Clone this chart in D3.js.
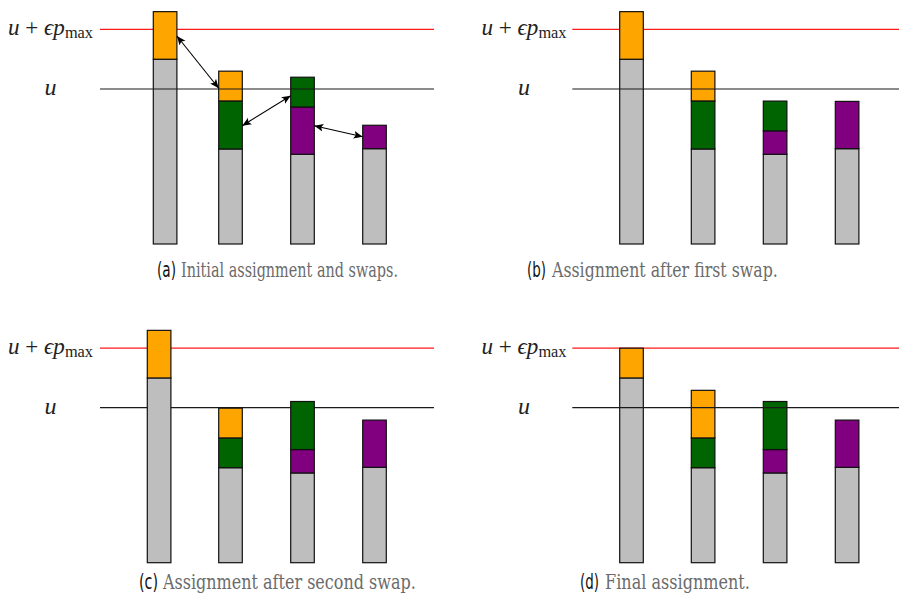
<!DOCTYPE html>
<html>
<head>
<meta charset="utf-8">
<script src="https://cdn.jsdelivr.net/npm/d3@7"></script>
<style>
  html, body { margin: 0; padding: 0; background: #fff; }
  svg { display: block; }
</style>
</head>
<body>
<svg id="chart" width="899" height="608"></svg>
<script>
// Machine loads in units of the threshold scale (u = 10).
const machines = [1, 2, 3, 4];
const baseLoad = [11.92, 6.13, 5.79, 6.15];          // grey: load already fixed on each machine
const uLevel = 10;                                    // u
const uMaxLevel = 13.85;                              // u + eps * p_max

// Jobs being moved around: colour key and size.
const jobNames = ["O1", "O2", "G1", "G2", "P1", "P2"];
const jobSizes = [3.07, 1.92, 3.10, 1.92, 3.05, 1.51];
const jobColors = ["#FFA500", "#FFA500", "#006400", "#006400", "#800080", "#800080"];

// Stack of jobs per machine, bottom to top, for each step.
const stepA = [["O1"], ["G1", "O2"], ["P1", "G2"], ["P2"]];
const stepB = [["O1"], ["G1", "O2"], ["P2", "G2"], ["P1"]];
const stepC = [["O1"], ["G2", "O2"], ["P2", "G1"], ["P1"]];
const stepD = [["O2"], ["G2", "O1"], ["P2", "G1"], ["P1"]];

// Swap arrows drawn in the first panel: [machine, level] -> [machine, level]
const swapFrom = [[1, 13.42], [2, 7.63], [3, 7.63]];
const swapTo   = [[2, 10.05], [3, 9.57], [4, 6.92]];

const captionTags = ["(a)", "(b)", "(c)", "(d)"];
const captionTexts = [
  "Initial assignment and swaps.",
  "Assignment after first swap.",
  "Assignment after second swap.",
  "Final assignment."
];

// Panel layout
const panels = [
  { steps: stepA, lineX: [100, 434], labelX: 50.5, bottom: 244, firstBar: 153.3, lastBar: 362.7, uOnTop: true,
    cap: { tagX: 157, tagW: 19, textX: 181, textW: 217, y: 277 } },
  { steps: stepB, lineX: [572.3, 899], labelX: 524, bottom: 244, firstBar: 619.7, lastBar: 835.3, uOnTop: true,
    cap: { tagX: 527, tagW: 19, textX: 552, textW: 226, y: 277 } },
  { steps: stepC, lineX: [100, 434], labelX: 50.5, bottom: 562.7, firstBar: 147.3, lastBar: 362.7, uOnTop: false,
    cap: { tagX: 139, tagW: 19, textX: 163, textW: 253, y: 589 } },
  { steps: stepD, lineX: [572.3, 899], labelX: 524, bottom: 562.7, firstBar: 619.7, lastBar: 835.3, uOnTop: true,
    cap: { tagX: 580, tagW: 19, textX: 605, textW: 145, y: 589 } }
];
const barSpacing = 72;
const barWidth = 23.6;
const pxPerUnit = 15.5;

const svg = d3.select("#chart");

const defs = svg.append("defs");
["start", "end"].forEach(kind => {
  defs.append("marker")
    .attr("id", "head-" + kind)
    .attr("viewBox", "0 0 10 10")
    .attr("refX", 10).attr("refY", 5)
    .attr("markerWidth", 9).attr("markerHeight", 9)
    .attr("markerUnits", "userSpaceOnUse")
    .attr("orient", kind === "start" ? "auto-start-reverse" : "auto")
    .append("path")
    .attr("d", "M0,0.8 L10,5 L0,9.2 L2.2,5 Z")
    .attr("fill", "#000");
});

function jobIndex(name) { return jobNames.indexOf(name); }

// Place a text so that it starts at (x, y) and is squeezed horizontally to a given width.
function fittedText(parent, x, y, width, str, family, size, fill) {
  const t = parent.append("text")
    .attr("font-family", family)
    .attr("font-size", size)
    .attr("fill", fill)
    .text(str);
  const natural = t.node().getComputedTextLength() || width;
  t.attr("transform", `translate(${x},${y}) scale(${width / natural},1)`);
  return t;
}

panels.forEach((p, pi) => {
  const g = svg.append("g");

  const y = d3.scaleLinear()
    .domain([0, uLevel])
    .range([p.bottom, p.bottom - uLevel * pxPerUnit]);

  // bars 2..4 sit on an even grid; bar 1 has its own position
  const xGrid = d3.scaleLinear().domain([2, 4]).range([p.lastBar - 2 * barSpacing, p.lastBar]);
  const x = m => (m === 1 ? p.firstBar : xGrid(m));

  // threshold lines
  g.append("line")
    .attr("x1", p.lineX[0]).attr("x2", p.lineX[1])
    .attr("y1", y(uMaxLevel)).attr("y2", y(uMaxLevel))
    .attr("stroke", "#FF1A1A").attr("stroke-width", 1.2);

  const uLineBelow = !p.uOnTop;
  const drawULine = parent => parent.append("line")
    .attr("x1", p.lineX[0]).attr("x2", p.lineX[1])
    .attr("y1", y(uLevel)).attr("y2", y(uLevel))
    .attr("stroke", "#1a1a1a").attr("stroke-width", 1.2);
  if (uLineBelow) drawULine(g);

  // stacked bars
  machines.forEach((m, mi) => {
    const segs = [{ v0: 0, v1: baseLoad[mi], fill: "#BEBEBE" }];
    let acc = baseLoad[mi];
    p.steps[mi].forEach(name => {
      const j = jobIndex(name);
      segs.push({ v0: acc, v1: acc + jobSizes[j], fill: jobColors[j] });
      acc += jobSizes[j];
    });
    g.selectAll(null)
      .data(segs)
      .join("rect")
      .attr("x", x(m))
      .attr("width", barWidth)
      .attr("y", d => y(d.v1))
      .attr("height", d => y(d.v0) - y(d.v1))
      .attr("fill", d => d.fill)
      .attr("stroke", "#111")
      .attr("stroke-width", 1.2);
  });

  if (!uLineBelow) drawULine(g);

  // level labels
  const mathFont = "'Liberation Serif', 'DejaVu Serif', serif";
  const lab1 = g.append("text")
    .attr("x", p.labelX).attr("y", y(uMaxLevel) + 6)
    .attr("text-anchor", "middle")
    .attr("font-family", mathFont)
    .attr("font-size", 24)
    .attr("fill", "#222")
    .attr("textLength", 85)
    .attr("lengthAdjust", "spacingAndGlyphs");
  lab1.append("tspan").attr("font-style", "italic").text("u");
  lab1.append("tspan").text(" + ");
  lab1.append("tspan").attr("font-style", "italic").text("ϵp");
  lab1.append("tspan").attr("font-size", 17).attr("dy", 3).text("max");

  g.append("text")
    .attr("x", p.labelX).attr("y", y(uLevel) + 6)
    .attr("text-anchor", "middle")
    .attr("font-family", mathFont)
    .attr("font-style", "italic")
    .attr("font-size", 24)
    .attr("fill", "#222")
    .text("u");

  // swap arrows (first panel only)
  if (pi === 0) {
    swapFrom.forEach((f, k) => {
      const t = swapTo[k];
      g.append("line")
        .attr("x1", x(f[0]) + barWidth).attr("y1", y(f[1]))
        .attr("x2", x(t[0])).attr("y2", y(t[1]))
        .attr("stroke", "#000").attr("stroke-width", 1.1)
        .attr("marker-start", "url(#head-start)")
        .attr("marker-end", "url(#head-end)");
    });
  }

  // caption: black sub-figure tag followed by grey description
  fittedText(g, p.cap.tagX, p.cap.y, p.cap.tagW, captionTags[pi],
             "'DejaVu Sans', sans-serif", 22, "#111");
  fittedText(g, p.cap.textX, p.cap.y, p.cap.textW, captionTexts[pi],
             "'DejaVu Serif', serif", 21, "#6b6b6b");
});
</script>
</body>
</html>
